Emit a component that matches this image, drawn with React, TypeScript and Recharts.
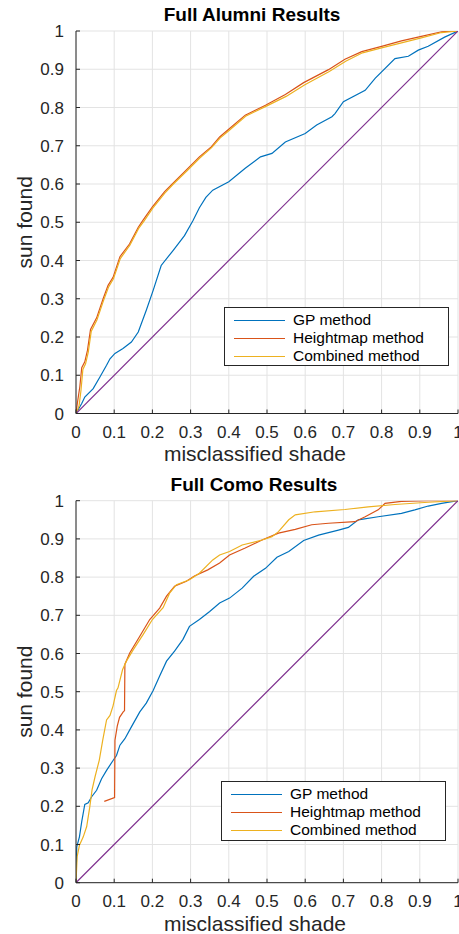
import React from "react";
import { LineChart, Line, XAxis, YAxis, CartesianGrid, Legend } from "recharts";

type Pt = [number, number];

const TICKS = [0, 0.1, 0.2, 0.3, 0.4, 0.5, 0.6, 0.7, 0.8, 0.9, 1];
const SERIES_NAMES = ["GP method", "Heightmap method", "Combined method"];
const COLORS = ["#0072BD", "#D95319", "#EDB120"];
const DIAG_COLOR = "#7E2F8E";
const FONT = '"Liberation Sans", Arial, Helvetica, sans-serif';

const diagonal: Pt[] = [[0, 0], [1, 1]];

const alumniGP: Pt[] = [
  [0, 0], [0.015, 0.026], [0.023, 0.043], [0.045, 0.065], [0.063, 0.096], [0.08, 0.126],
  [0.089, 0.143], [0.102, 0.157], [0.123, 0.17], [0.145, 0.187], [0.163, 0.213], [0.184, 0.27],
  [0.202, 0.322], [0.223, 0.387], [0.254, 0.426], [0.284, 0.465], [0.306, 0.504], [0.323, 0.538],
  [0.34, 0.565], [0.358, 0.584], [0.4, 0.606], [0.443, 0.641], [0.483, 0.671], [0.513, 0.68],
  [0.548, 0.71], [0.6, 0.732], [0.63, 0.754], [0.67, 0.776], [0.678, 0.784], [0.7, 0.815],
  [0.757, 0.845], [0.783, 0.876], [0.835, 0.928], [0.87, 0.934], [0.896, 0.95], [0.922, 0.96],
  [0.965, 0.984], [1, 1],
];

const alumniHeightmap: Pt[] = [
  [0, 0], [0.004, 0.03], [0.01, 0.07], [0.015, 0.12], [0.023, 0.135], [0.03, 0.165],
  [0.038, 0.22], [0.054, 0.25], [0.071, 0.3], [0.084, 0.335], [0.097, 0.356], [0.115, 0.41],
  [0.14, 0.443], [0.163, 0.487], [0.176, 0.506], [0.2, 0.54], [0.232, 0.58], [0.254, 0.602],
  [0.289, 0.637], [0.323, 0.671], [0.354, 0.697], [0.376, 0.723], [0.402, 0.745], [0.443, 0.78],
  [0.496, 0.806], [0.548, 0.834], [0.596, 0.865], [0.661, 0.899], [0.704, 0.926], [0.748, 0.946],
  [0.8, 0.96], [0.852, 0.974], [0.904, 0.986], [0.957, 0.998], [1, 1],
];

const alumniCombined: Pt[] = [
  [0, 0], [0.008, 0.02], [0.013, 0.06], [0.018, 0.115], [0.025, 0.13], [0.032, 0.16],
  [0.04, 0.215], [0.055, 0.245], [0.072, 0.295], [0.085, 0.33], [0.098, 0.352], [0.116, 0.405],
  [0.141, 0.44], [0.164, 0.484], [0.178, 0.503], [0.201, 0.537], [0.233, 0.577], [0.255, 0.6],
  [0.29, 0.634], [0.324, 0.668], [0.355, 0.695], [0.377, 0.72], [0.403, 0.742], [0.444, 0.777],
  [0.497, 0.803], [0.55, 0.829], [0.598, 0.859], [0.663, 0.894], [0.706, 0.921], [0.75, 0.943],
  [0.8, 0.956], [0.852, 0.969], [0.904, 0.982], [0.957, 0.996], [1, 1],
];

const comoGP: Pt[] = [
  [0, 0], [0.002, 0.094], [0.009, 0.12], [0.015, 0.16], [0.023, 0.205], [0.032, 0.209],
  [0.041, 0.225], [0.054, 0.242], [0.067, 0.272], [0.08, 0.294], [0.097, 0.32], [0.106, 0.333],
  [0.115, 0.36], [0.128, 0.377], [0.145, 0.408], [0.167, 0.447], [0.184, 0.47], [0.202, 0.503],
  [0.219, 0.541], [0.237, 0.58], [0.258, 0.606], [0.28, 0.637], [0.297, 0.671], [0.323, 0.689],
  [0.35, 0.71], [0.376, 0.732], [0.402, 0.745], [0.435, 0.771], [0.465, 0.802], [0.496, 0.823],
  [0.526, 0.852], [0.557, 0.867], [0.596, 0.896], [0.635, 0.91], [0.687, 0.923], [0.713, 0.93],
  [0.739, 0.95], [0.791, 0.958], [0.852, 0.967], [0.887, 0.976], [0.922, 0.986], [0.957, 0.993],
  [1, 1],
];

const comoHeightmap: Pt[] = [
  [0.074, 0.213], [0.101, 0.223], [0.102, 0.373], [0.108, 0.41], [0.114, 0.433], [0.124, 0.448],
  [0.127, 0.45], [0.128, 0.572], [0.141, 0.602], [0.167, 0.645], [0.193, 0.689], [0.219, 0.719],
  [0.237, 0.75], [0.258, 0.776], [0.289, 0.789], [0.31, 0.803], [0.345, 0.819], [0.376, 0.837],
  [0.402, 0.858], [0.443, 0.876], [0.487, 0.897], [0.53, 0.915], [0.574, 0.925], [0.617, 0.937],
  [0.661, 0.941], [0.73, 0.945], [0.757, 0.958], [0.791, 0.976], [0.809, 0.993], [0.852, 0.998],
  [0.922, 1], [1, 1],
];

const comoCombined: Pt[] = [
  [0, 0], [0.003, 0.068], [0.009, 0.098], [0.019, 0.12], [0.028, 0.147], [0.036, 0.198],
  [0.042, 0.243], [0.05, 0.278], [0.061, 0.321], [0.07, 0.373], [0.08, 0.426], [0.089, 0.438],
  [0.097, 0.463], [0.106, 0.503], [0.11, 0.51], [0.122, 0.558], [0.132, 0.58], [0.15, 0.61],
  [0.176, 0.65], [0.2, 0.689], [0.228, 0.72], [0.245, 0.758], [0.263, 0.78], [0.297, 0.793],
  [0.323, 0.81], [0.358, 0.845], [0.376, 0.858], [0.402, 0.867], [0.435, 0.884], [0.487, 0.897],
  [0.513, 0.906], [0.53, 0.919], [0.557, 0.95], [0.574, 0.963], [0.626, 0.971], [0.704, 0.977],
  [0.765, 0.984], [0.835, 0.99], [0.922, 0.996], [1, 1],
];

const toRows = (pts: Pt[]) => pts.map(([x, y]) => ({ x, y }));

interface PanelProps {
  title: string;
  series: Pt[][];
  top: number;
  height: number;
  marginTop: number;
  xAxisHeight: number;
  titleY: number;
  titleX: number;
  legendBox: { left: number; top: number; width: number; height: number };
  xLabelDy: number;
}

function LegendBox({ payload, box }: any) {
  // keep the plotting order, not recharts' alphabetical one
  const items = (payload || [])
    .filter((p: any) => p.type !== "none")
    .sort((a: any, b: any) => SERIES_NAMES.indexOf(a.value) - SERIES_NAMES.indexOf(b.value));
  return (
    <div
      style={{
        width: box.width,
        height: box.height,
        boxSizing: "border-box",
        border: "1px solid #262626",
        background: "#fff",
        paddingTop: 3,
        fontFamily: FONT,
        fontSize: 15.5,
        color: "#000",
      }}
    >
      {items.map((it: any) => (
        <div key={it.value} style={{ display: "flex", alignItems: "center", height: 18 }}>
          <span
            style={{
              display: "inline-block",
              width: 51,
              marginLeft: 9,
              marginRight: 8,
              borderTop: `1.3px solid ${it.color}`,
            }}
          />
          <span style={{ lineHeight: "18px" }}>{it.value}</span>
        </div>
      ))}
    </div>
  );
}

function Panel(p: PanelProps) {
  const tickStyle = { fontSize: 17, fill: "#262626", fontFamily: FONT };
  return (
    <div style={{ position: "absolute", left: 0, top: p.top, width: 459, height: p.height }}>
      <div
        style={{
          position: "absolute",
          left: p.titleX - 150,
          width: 300,
          top: p.titleY - 11,
          textAlign: "center",
          fontFamily: FONT,
          fontWeight: "bold",
          fontSize: 19,
          lineHeight: "22px",
          color: "#000",
        }}
      >
        {p.title}
      </div>
      <LineChart
        width={459}
        height={p.height}
        margin={{ top: p.marginTop, right: 1, left: 0, bottom: 0 }}
        style={{ fontFamily: FONT }}
      >
        <CartesianGrid stroke="#e3e3e3" strokeWidth={1} />
        <XAxis
          type="number"
          dataKey="x"
          domain={[0, 1]}
          ticks={TICKS}
          allowDataOverflow
          height={p.xAxisHeight}
          tick={tickStyle}
          tickSize={-4}
          tickMargin={16}
          stroke="#262626"
          interval={0}
          label={{
            value: "misclassified shade",
            position: "center",
            dx: -12,
            dy: p.xLabelDy,
            style: { fontSize: 21, fill: "#262626", fontFamily: FONT },
          }}
        />
        <YAxis
          type="number"
          dataKey="y"
          domain={[0, 1]}
          ticks={TICKS}
          allowDataOverflow
          width={76}
          tick={tickStyle}
          tickSize={-4}
          tickMargin={16}
          stroke="#262626"
          interval={0}
          label={{
            value: "sun found",
            position: "center",
            angle: -90,
            dx: -13,
            style: { fontSize: 21, fill: "#262626", fontFamily: FONT },
          }}
        />
        {p.series.map((pts, i) => (
          <Line
            key={SERIES_NAMES[i]}
            name={SERIES_NAMES[i]}
            data={toRows(pts)}
            dataKey="y"
            type="linear"
            stroke={COLORS[i]}
            strokeWidth={1.2}
            dot={false}
            isAnimationActive={false}
          />
        ))}
        <Line
          name="diagonal"
          data={toRows(diagonal)}
          dataKey="y"
          type="linear"
          stroke={DIAG_COLOR}
          strokeWidth={1.2}
          dot={false}
          legendType="none"
          isAnimationActive={false}
        />
        <Legend
          layout="vertical"
          align="center"
          verticalAlign="middle"
          wrapperStyle={{
            left: p.legendBox.left,
            top: p.legendBox.top,
            width: p.legendBox.width,
            height: p.legendBox.height,
          }}
          content={(props: any) => <LegendBox payload={props.payload} box={p.legendBox} />}
        />
      </LineChart>
    </div>
  );
}

export default function App() {
  return (
    <div style={{ position: "relative", width: 459, height: 934, background: "#fff" }}>
      <style>{"body{margin:0;background:#fff}"}</style>
      <Panel
        title="Full Alumni Results"
        series={[alumniGP, alumniHeightmap, alumniCombined]}
        top={0}
        height={467}
        marginTop={31}
        xAxisHeight={53.5}
        titleY={15}
        titleX={252}
        legendBox={{ left: 224, top: 307, width: 225, height: 59 }}
        xLabelDy={13.7}
      />
      <Panel
        title="Full Como Results"
        series={[comoGP, comoHeightmap, comoCombined]}
        top={467}
        height={467}
        marginTop={33.7}
        xAxisHeight={51.3}
        titleY={18}
        titleX={254}
        legendBox={{ left: 221, top: 314, width: 225, height: 60 }}
        xLabelDy={15.3}
      />
    </div>
  );
}
